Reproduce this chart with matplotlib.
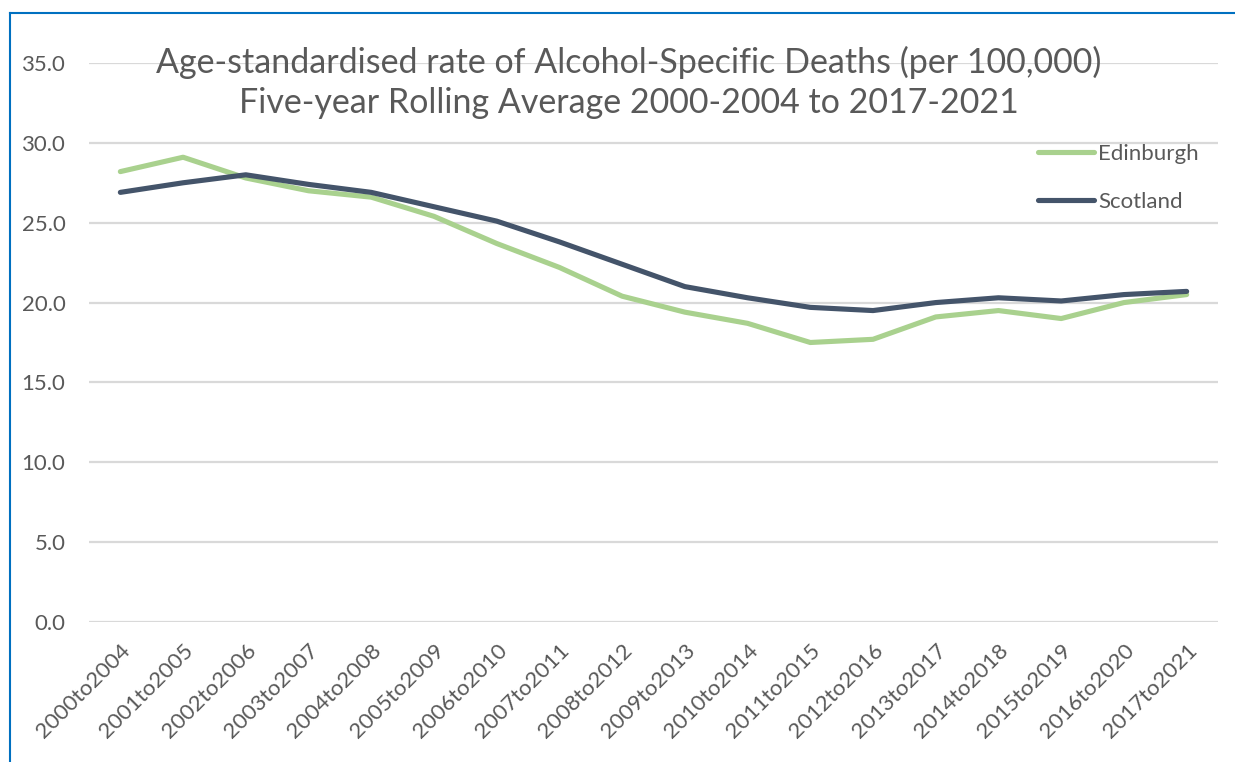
import matplotlib
matplotlib.use("Agg")
import matplotlib.pyplot as plt
from matplotlib.lines import Line2D

# Five-year rolling periods and age-standardised rates per 100,000
periods = ["2000to2004", "2001to2005", "2002to2006", "2003to2007", "2004to2008",
           "2005to2009", "2006to2010", "2007to2011", "2008to2012", "2009to2013",
           "2010to2014", "2011to2015", "2012to2016", "2013to2017", "2014to2018",
           "2015to2019", "2016to2020", "2017to2021"]
edinburgh = [28.2, 29.1, 27.8, 27.0, 26.6, 25.4, 23.7, 22.2, 20.4, 19.4,
             18.7, 17.5, 17.7, 19.1, 19.5, 19.0, 20.0, 20.5]
scotland = [26.9, 27.5, 28.0, 27.4, 26.9, 26.0, 25.1, 23.8, 22.4, 21.0,
            20.3, 19.7, 19.5, 20.0, 20.3, 20.1, 20.5, 20.7]
yticks = [0, 5, 10, 15, 20, 25, 30, 35]

GREEN = "#A9D18E"
NAVY = "#44546A"
GREY = "#595959"
GRID = "#D9D9D9"
BORDER = "#0070C0"

plt.rcParams["font.family"] = ["Lato", "DejaVu Sans"]

W, H = 1235, 762
fig = plt.figure(figsize=(W / 100, H / 100), dpi=100)
ax = fig.add_axes([89 / W, 1 - 622 / H, (1218 - 89) / W, (622 - 63) / H])

x = list(range(len(periods)))
ax.plot(x, edinburgh, color=GREEN, lw=3.7, solid_capstyle="round",
        solid_joinstyle="round", label="Edinburgh", zorder=3)
ax.plot(x, scotland, color=NAVY, lw=3.7, solid_capstyle="round",
        solid_joinstyle="round", label="Scotland", zorder=4)

ax.set_xlim(-0.5, len(periods) - 0.5)
ax.set_ylim(0, 35)
ax.set_yticks(yticks)
ax.set_yticklabels([f"{v:.1f}" for v in yticks])
ax.set_xticks(x)
ax.set_xticklabels(periods, rotation=45, ha="right", va="top",
                   rotation_mode="anchor")
ax.tick_params(axis="both", length=0, colors=GREY, labelsize=16)
ax.tick_params(axis="y", pad=17)
ax.tick_params(axis="x", pad=13)
ax.grid(axis="y", color=GRID, lw=1.6)
ax.set_axisbelow(True)
for s in ax.spines.values():
    s.set_visible(False)

fig.text(629 / W, 1 - 62 / H, "Age-standardised rate of Alcohol-Specific Deaths (per 100,000)",
         ha="center", va="center", fontsize=24.5, color=GREY)
fig.text(629 / W, 1 - 103 / H, "Five-year Rolling Average 2000-2004 to 2017-2021",
         ha="center", va="center", fontsize=24.5, color=GREY)

handles = [Line2D([], [], color=GREEN, lw=3.7, solid_capstyle="round"),
           Line2D([], [], color=NAVY, lw=3.7, solid_capstyle="round")]
fig.legend(handles, ["Edinburgh", "Scotland"], loc="upper left",
           bbox_to_anchor=(1038 / W, 1 - 144 / H), frameon=False,
           fontsize=16, labelcolor=GREY, handlelength=2.5,
           handletextpad=0.2, labelspacing=1.25, borderpad=0, borderaxespad=0)

# Chart-area border (left and top edges)
fig.add_artist(Line2D([10 / W, 10 / W], [0, 1 - 13 / H], color=BORDER, lw=1.5,
                      transform=fig.transFigure))
fig.add_artist(Line2D([10 / W, 1], [1 - 13 / H, 1 - 13 / H], color=BORDER, lw=1.5,
                      transform=fig.transFigure))

fig.savefig("out.png", dpi=100, facecolor="white")
